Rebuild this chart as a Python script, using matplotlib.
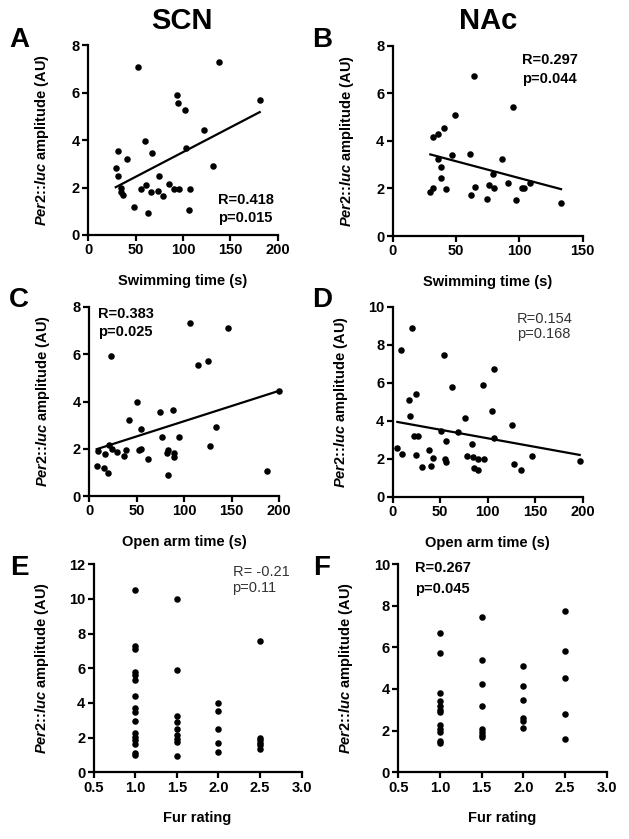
import matplotlib
matplotlib.use("Agg")
import matplotlib.pyplot as plt
import numpy as np

plt.rcParams["font.family"] = ["Liberation Sans", "DejaVu Sans"]
plt.rcParams["mathtext.fontset"] = "custom"
plt.rcParams["mathtext.it"] = "Liberation Sans:italic:bold"
plt.rcParams["mathtext.rm"] = "Liberation Sans:bold"

# --- data ---
# A: SCN vs swimming time
swim_scn_x = [29, 31, 31, 35, 35, 37, 41, 48, 52, 56, 60, 61, 63, 66, 67, 74, 75, 79,
              85, 90, 94, 95, 96, 102, 103, 107, 106, 122, 132, 138, 181]
swim_scn_y = [2.81, 3.54, 2.47, 1.96, 1.80, 1.68, 3.19, 1.16, 7.09, 1.95, 3.96, 2.09,
              0.91, 1.80, 3.45, 1.85, 2.47, 1.63, 2.16, 1.92, 5.89, 5.54, 1.94, 5.26,
              3.65, 1.95, 1.04, 4.41, 2.92, 7.30, 5.70]
swim_scn_fit = (0.0208, 1.41)

# B: NAc vs swimming time
swim_nac_x = [29.7, 32.1, 31.8, 35.8, 36.1, 38.2, 37.9, 40.8, 42.1, 47.1, 48.9, 61.1,
              62.1, 64.2, 65.3, 74.7, 76.1, 78.9, 80, 86, 90.8, 95.3, 97.1, 101.8,
              103.9, 108.2, 132.9]
swim_nac_y = [1.83, 2.03, 4.16, 4.27, 3.22, 2.91, 2.45, 4.54, 1.99, 3.40, 5.08, 3.46,
              1.71, 6.72, 2.07, 1.54, 2.14, 2.59, 2.03, 3.24, 2.23, 5.41, 1.50, 2.00,
              2.00, 2.21, 1.40]
swim_nac_fit = (-0.01415, 3.85)

# C: SCN vs open arm time
arm_scn_x = [7.9, 9, 15.6, 17, 19.8, 21, 23, 24, 29.6, 37, 38.8, 41.9, 50, 52.5, 55,
             54.6, 62, 74.6, 77, 81.6, 83.3, 82.6, 88.6, 89.3, 89.6, 94.9, 105.8, 115,
             124.7, 127.2, 133.5, 146.5, 186.8, 200]
arm_scn_y = [1.28, 1.92, 1.17, 1.79, 0.96, 2.14, 5.92, 1.99, 1.86, 1.69, 1.94, 3.20,
             3.99, 1.96, 1.97, 2.85, 1.56, 3.55, 2.49, 1.83, 1.94, 0.90, 3.66, 1.83,
             1.63, 2.49, 7.34, 5.56, 5.72, 2.10, 2.93, 7.11, 1.04, 4.45]
arm_scn_fit = (0.01287, 1.88)

# D: NAc vs open arm time
arm_nac_x = [5.1, 8.9, 10.4, 17, 18, 20.9, 22.3, 26.5, 24.4, 25.1, 31, 38, 40.2, 42.6,
             51, 54.2, 55.6, 56.3, 56.3, 63, 68.6, 76.3, 78.4, 83.3, 84.7, 85.4, 90,
             90, 94.9, 96.7, 105, 106.5, 107.2, 126.1, 128.2, 135, 147.2, 197]
arm_nac_y = [2.60, 7.73, 2.24, 5.10, 4.28, 8.86, 3.23, 3.23, 5.40, 2.22, 1.56, 2.47,
             1.61, 2.03, 3.46, 7.47, 1.99, 2.92, 1.84, 5.79, 3.41, 4.14, 2.15, 2.78,
             2.10, 1.50, 1.43, 2.01, 5.86, 2.01, 4.53, 6.73, 3.08, 3.78, 1.71, 1.40,
             2.17, 1.90]
arm_nac_fit = (-0.00903, 3.99)

# E: SCN vs fur rating
fur_scn_x = [1.0] * 16 + [1.5] * 9 + [2.0] * 5 + [2.5] * 6
fur_scn_y = [10.5, 7.3, 7.1, 5.8, 5.6, 5.3, 4.4, 3.7, 3.5, 2.95, 2.25, 2.05, 1.85, 1.65, 1.1, 1.0,
             10.0, 5.9, 3.25, 2.9, 2.5, 2.15, 1.95, 1.75, 0.95,
             4.0, 3.55, 2.5, 1.7, 1.2,
             7.6, 2.0, 1.85, 1.7, 1.55, 1.35]

# F: NAc vs fur rating
fur_nac_x = [1.0] * 12 + [1.5] * 8 + [2.0] * 6 + [2.5] * 5
fur_nac_y = [6.7, 5.75, 3.8, 3.4, 3.2, 3.0, 2.9, 2.25, 2.1, 1.95, 1.5, 1.4,
             7.45, 5.4, 4.25, 3.2, 2.1, 1.95, 1.8, 1.7,
             5.1, 4.15, 3.45, 2.6, 2.45, 2.15,
             7.75, 5.8, 4.55, 2.8, 1.6]

stats_text = {
    "A": ("R=0.418", "p=0.015"),
    "B": ("R=0.297", "p=0.044"),
    "C": ("R=0.383", "p=0.025"),
    "D": ("R=0.154", "p=0.168"),
    "E": ("R= -0.21", "p=0.11"),
    "F": ("R=0.267", "p=0.045"),
}

W, H = 629, 839
fig = plt.figure(figsize=(W / 100, H / 100), dpi=100)


def make_axes(left, right, top, bottom):
    return fig.add_axes([left / W, 1 - bottom / H, (right - left) / W, (bottom - top) / H])


YLABEL = r"$\mathit{Per2}$::$\mathit{luc}$ amplitude (AU)"


def style_axes(ax, xlim, xticks, ylim, yticks, xlabel, ylabel_px, xticklabels=None):
    ax.set_xlim(*xlim)
    ax.set_ylim(*ylim)
    ax.set_xticks(xticks)
    if xticklabels is not None:
        ax.set_xticklabels(xticklabels)
    ax.set_yticks(yticks)
    for s in ["top", "right"]:
        ax.spines[s].set_visible(False)
    for s in ["left", "bottom"]:
        ax.spines[s].set_linewidth(1.6)
    ax.tick_params(width=1.6, length=4, labelsize=10.5, pad=2)
    for lab in ax.get_xticklabels() + ax.get_yticklabels():
        lab.set_fontweight("bold")
    ax.set_xlabel(xlabel, fontsize=10.5, fontweight="bold", labelpad=12)
    ax.set_ylabel(YLABEL, fontsize=10.5, fontweight="bold")
    bb = ax.get_position()
    ax.yaxis.set_label_coords(ylabel_px / W, bb.y0 + bb.height / 2, transform=fig.transFigure)


def scatter(ax, x, y):
    ax.scatter(x, y, s=22, color="black", zorder=3, clip_on=False, linewidths=0)


def fit_line(ax, x, fit):
    xs = np.array([min(x), max(x)])
    ax.plot(xs, fit[0] * xs + fit[1], color="black", lw=1.6, zorder=2)


def stats(ax, key, x, y1, y2, bold=True):
    kw = dict(fontsize=10.5, fontweight="bold" if bold else "normal",
              color="black" if bold else "#333333", va="center", ha="left")
    ax.text(x, y1, stats_text[key][0], **kw)
    ax.text(x, y2, stats_text[key][1], **kw)


# A
axA = make_axes(88.3, 277.7, 45, 235)
scatter(axA, swim_scn_x, swim_scn_y)
fit_line(axA, swim_scn_x, swim_scn_fit)
style_axes(axA, (0, 200), [0, 50, 100, 150, 200], (0, 8), [0, 2, 4, 6, 8], "Swimming time (s)", 51)
stats(axA, "A", 137, 1.47, 0.72)

# B
axB = make_axes(392.7, 582.7, 45.7, 236)
scatter(axB, swim_nac_x, swim_nac_y)
fit_line(axB, swim_nac_x, swim_nac_fit)
style_axes(axB, (0, 150), [0, 50, 100, 150], (0, 8), [0, 2, 4, 6, 8], "Swimming time (s)", 356)
stats(axB, "B", 101.8, 7.39, 6.62)

# C
axC = make_axes(89.2, 279.2, 307, 496)
scatter(axC, arm_scn_x, arm_scn_y)
fit_line(axC, arm_scn_x, arm_scn_fit)
style_axes(axC, (0, 200), [0, 50, 100, 150, 200], (0, 8), [0, 2, 4, 6, 8], "Open arm time (s)", 52)
stats(axC, "C", 9.6, 7.72, 6.95)

# D
axD = make_axes(392.5, 582.5, 306.7, 497)
scatter(axD, arm_nac_x, arm_nac_y)
fit_line(axD, arm_nac_x, arm_nac_fit)
style_axes(axD, (0, 200), [0, 50, 100, 150, 200], (0, 10), [0, 2, 4, 6, 8, 10], "Open arm time (s)", 350)
stats(axD, "D", 130.7, 9.33, 8.55, bold=False)

fur_ticks = [0.5, 1.0, 1.5, 2.0, 2.5, 3.0]
fur_labels = ["0.5", "1.0", "1.5", "2.0", "2.5", "3.0"]

# E
axE = make_axes(93.7, 301.5, 564.3, 772.3)
scatter(axE, fur_scn_x, fur_scn_y)
style_axes(axE, (0.5, 3.0), fur_ticks, (0, 12), [0, 2, 4, 6, 8, 10, 12], "Fur rating", 51, fur_labels)
stats(axE, "E", 2.17, 11.58, 10.62, bold=False)

# F
axF = make_axes(398.3, 606.7, 564, 772.3)
scatter(axF, fur_nac_x, fur_nac_y)
style_axes(axF, (0.5, 3.0), fur_ticks, (0, 10), [0, 2, 4, 6, 8, 10], "Fur rating", 355, fur_labels)
stats(axF, "F", 0.70, 9.79, 8.80)

# column titles and panel letters
fig.text(182 / W, 1 - 21 / H, "SCN", fontsize=21, fontweight="bold", ha="center", va="center")
fig.text(488 / W, 1 - 21 / H, "NAc", fontsize=21, fontweight="bold", ha="center", va="center")
for letter, (px, py) in {"A": (19, 40), "B": (322, 40), "C": (19, 300), "D": (322, 300),
                         "E": (19, 568), "F": (322, 568)}.items():
    fig.text(px / W, 1 - py / H, letter, fontsize=20, fontweight="bold", ha="center", va="center")

fig.savefig("out.png", dpi=100)
